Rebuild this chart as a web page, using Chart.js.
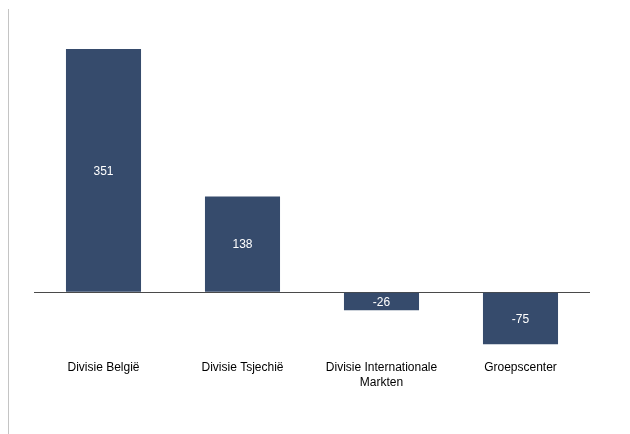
<!DOCTYPE html>
<html>
<head>
<meta charset="utf-8">
<script src="https://cdn.jsdelivr.net/npm/chart.js@4/dist/chart.umd.min.js"></script>
<style>
    html, body { margin: 0; padding: 0; background: #fff; }
    #wrap { position: relative; width: 630px; height: 434px; }
    #frame { position: absolute; left: 8px; top: 9px; bottom: 0; border-left: 1px solid #c4c4c4; }
</style>
</head>
<body>
<div id="wrap">
    <div id="frame"></div>
    <canvas id="chart" width="630" height="434"></canvas>
</div>
<script>
const categories = ["Divisie België", "Divisie Tsjechië", ["Divisie Internationale", "Markten"], "Groepscenter"];
const values = [351, 138, -26, -75];

const barColor = "#364b6c";

// white value labels in the middle of each bar
const valueLabels = {
    id: "valueLabels",
    afterDatasetsDraw(chart) {
        const ctx = chart.ctx;
        const meta = chart.getDatasetMeta(0);
        ctx.save();
        ctx.fillStyle = "#ffffff";
        ctx.font = "12px 'Liberation Sans', Arial, sans-serif";
        ctx.textAlign = "center";
        ctx.textBaseline = "middle";
        meta.data.forEach((bar, i) => {
            const mid = (bar.y + bar.base) / 2;
            ctx.fillText(String(values[i]), bar.x, mid + 1);
        });
        ctx.restore();
    }
};

new Chart(document.getElementById("chart").getContext("2d"), {
    type: "bar",
    data: {
        labels: categories,
        datasets: [{
            data: values,
            backgroundColor: barColor,
            borderWidth: 0,
            barPercentage: 0.54,
            categoryPercentage: 1.0,
        }]
    },
    options: {
        responsive: false,
        animation: false,
        layout: {
            padding: { left: 34, right: 40, top: 15, bottom: 0 }
        },
        plugins: {
            legend: { display: false },
            tooltip: { enabled: false }
        },
        scales: {
            x: {
                grid: { display: false, drawTicks: false },
                border: { display: false },
                ticks: {
                    color: "#000000",
                    padding: 2,
                    maxRotation: 0,
                    autoSkip: false,
                    font: { family: "'Liberation Sans', Arial, sans-serif", size: 12, lineHeight: 1.25 }
                },
                afterFit(scale) {
                    scale.height = 76;
                }
            },
            y: {
                min: -95,
                max: 400,
                ticks: { display: false, stepSize: 50 },
                border: { display: false },
                grid: {
                    drawTicks: false,
                    lineWidth: 1,
                    color: (c) => (c.tick && c.tick.value === 0 ? "#4a4a4a" : "rgba(0,0,0,0)")
                }
            }
        }
    },
    plugins: [valueLabels]
});
</script>
</body>
</html>
